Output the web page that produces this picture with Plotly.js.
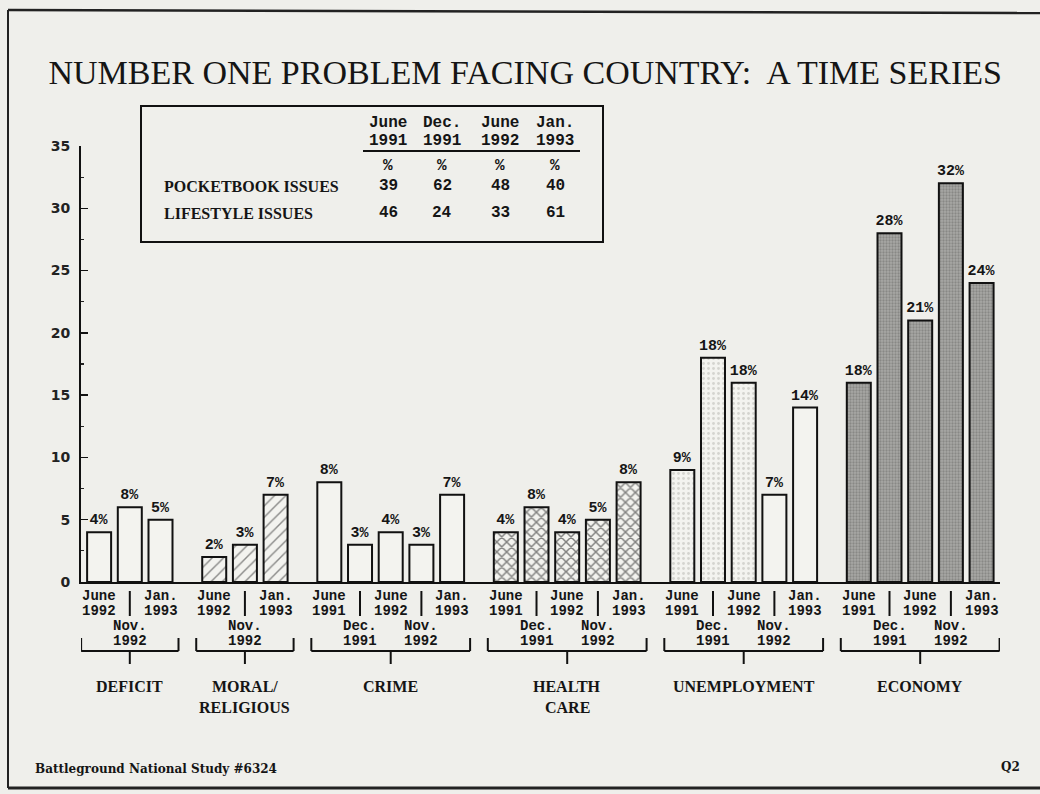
<!DOCTYPE html>
<html>
<head>
<meta charset="utf-8">
<script src="https://cdn.plot.ly/plotly-3.0.1.min.js"></script>
<style>
html,body{margin:0;padding:0;background:#efefeb;}
#chart{width:1040px;height:794px;}
</style>
</head>
<body>
<div id="chart"></div>
<script>
// ---------------- DATA ----------------
const categoryNames = [['DEFICIT'], ['MORAL/', 'RELIGIOUS'], ['CRIME'], ['HEALTH', 'CARE'], ['UNEMPLOYMENT'], ['ECONOMY']];

const deficitDates = ['June 1992', 'Nov. 1992', 'Jan. 1993'];
const deficitValues = [4, 6, 5];
const deficitLabels = ['4%', '8%', '5%'];

const moralDates = ['June 1992', 'Nov. 1992', 'Jan. 1993'];
const moralValues = [2, 3, 7];
const moralLabels = ['2%', '3%', '7%'];

const crimeDates = ['June 1991', 'Dec. 1991', 'June 1992', 'Nov. 1992', 'Jan. 1993'];
const crimeValues = [8, 3, 4, 3, 7];
const crimeLabels = ['8%', '3%', '4%', '3%', '7%'];

const healthDates = ['June 1991', 'Dec. 1991', 'June 1992', 'Nov. 1992', 'Jan. 1993'];
const healthValues = [4, 6, 4, 5, 8];
const healthLabels = ['4%', '8%', '4%', '5%', '8%'];

const unemploymentDates = ['June 1991', 'Dec. 1991', 'June 1992', 'Nov. 1992', 'Jan. 1993'];
const unemploymentValues = [9, 18, 16, 7, 14];
const unemploymentLabels = ['9%', '18%', '18%', '7%', '14%'];

const economyDates = ['June 1991', 'Dec. 1991', 'June 1992', 'Nov. 1992', 'Jan. 1993'];
const economyValues = [16, 28, 21, 32, 24];
const economyLabels = ['18%', '28%', '21%', '32%', '24%'];

const tableColumns = ['June 1991', 'Dec. 1991', 'June 1992', 'Jan. 1993'];
const tableRowNames = ['POCKETBOOK ISSUES', 'LIFESTYLE ISSUES'];
const pocketbookIssues = [39, 62, 48, 40];
const lifestyleIssues = [46, 24, 33, 61];

const yTicks = [0, 5, 10, 15, 20, 25, 30, 35];
const titleText = 'NUMBER ONE PROBLEM FACING COUNTRY:  A TIME SERIES';
const footerText = 'Battleground National Study #6324';
const pageText = 'Q2';

// ---------------- LAYOUT HELPERS ----------------
const BG = '#efefeb';
const BARFILL = '#f3f3ef';
const W = 1040, H = 794;
const ML = 81, MR = 40, MT = 146, MB = 212;
const PW = W - ML - MR, PH = H - MT - MB;
const XMIN = -0.59, XMAX = 29.35;
const pxX = px => (px - ML) / PW;          // page px -> paper x
const pxY = py => (H - MB - py) / PH;      // page px -> paper y
const unitPx = PW / (XMAX - XMIN);
const BARW = 24 / unitPx;
const EXT = BARW / 2 + 6 / unitPx;

const groups = [
  {dates: deficitDates, values: deficitValues, labels: deficitLabels, style: 'plain'},
  {dates: moralDates, values: moralValues, labels: moralLabels, style: 'hatch'},
  {dates: crimeDates, values: crimeValues, labels: crimeLabels, style: 'plain'},
  {dates: healthDates, values: healthValues, labels: healthLabels, style: 'cross'},
  {dates: unemploymentDates, values: unemploymentValues, labels: unemploymentLabels, style: 'dots'},
  {dates: economyDates, values: economyValues, labels: economyLabels, style: 'gray'}
];

const traces = [];
const annotations = [];
const shapes = [];
const monoBold = {family: 'Liberation Mono', size: 14, color: '#151515', weight: 'bold'};
const serifBold = {family: 'Liberation Serif', size: 16, color: '#151515', weight: 'bold'};

let pos = 0;
groups.forEach((g, gi) => {
  const xs = g.values.map((v, i) => pos + i);
  pos += g.values.length - 1 + 1.75;
  let marker = {color: BARFILL, line: {color: '#111', width: 2}};
  if (g.style === 'hatch') {
    marker.pattern = {shape: '/', fgcolor: '#222', bgcolor: BARFILL, size: 8, solidity: 0.18, fillmode: 'overlay'};
  } else if (g.style === 'cross') {
    marker.pattern = {shape: 'x', fgcolor: '#111', bgcolor: BARFILL, size: 7, solidity: 0.38, fillmode: 'overlay'};
  } else if (g.style === 'dots') {
    marker.pattern = {shape: g.values.map((v, i) => i < 3 ? '.' : ''), fgcolor: '#b5b5b0', bgcolor: BARFILL, size: 5, solidity: 0.25, fillmode: 'overlay'};
  } else if (g.style === 'gray') {
    marker.color = '#a2a29f';
    marker.pattern = {shape: '.', fgcolor: '#676765', bgcolor: '#a8a8a5', size: 3, solidity: 0.45, fillmode: 'overlay'};
  }
  traces.push({
    type: 'bar', x: xs, y: g.values, width: BARW,
    text: g.labels, textposition: 'outside', constraintext: 'none', cliponaxis: false,
    textfont: {family: 'Liberation Mono', size: 15, color: '#151515', weight: 'bold'},
    marker: marker, hoverinfo: 'skip', showlegend: false
  });
  // date labels
  xs.forEach((x, i) => {
    const parts = g.dates[i].split(' ');
    const upper = (i % 2 === 0);
    const y1 = upper ? 596 : 626, y2 = upper ? 611 : 641;
    annotations.push({x: x, xref: 'x', y: pxY(y1), yref: 'paper', text: parts[0], showarrow: false, font: monoBold, xanchor: 'center', yanchor: 'middle'});
    annotations.push({x: x, xref: 'x', y: pxY(y2), yref: 'paper', text: parts[1], showarrow: false, font: monoBold, xanchor: 'center', yanchor: 'middle'});
    if (!upper) {
      shapes.push({type: 'line', xref: 'x', yref: 'paper', x0: x, x1: x, y0: pxY(591), y1: pxY(616), line: {color: '#111', width: 2}});
    }
  });
  // bracket
  const left = xs[0] - EXT, right = xs[xs.length - 1] + EXT;
  const mid = (xs[0] + xs[xs.length - 1]) / 2;
  const ln = {color: '#111', width: 2};
  shapes.push({type: 'line', xref: 'x', yref: 'paper', x0: left, x1: right, y0: pxY(651), y1: pxY(651), line: ln});
  shapes.push({type: 'line', xref: 'x', yref: 'paper', x0: left, x1: left, y0: pxY(651), y1: pxY(638), line: ln});
  shapes.push({type: 'line', xref: 'x', yref: 'paper', x0: right, x1: right, y0: pxY(651), y1: pxY(638), line: ln});
  shapes.push({type: 'line', xref: 'x', yref: 'paper', x0: mid, x1: mid, y0: pxY(651), y1: pxY(664), line: ln});
  // category name
  categoryNames[gi].forEach((line, li) => {
    annotations.push({x: mid, xref: 'x', y: pxY(686 + li * 21), yref: 'paper', text: line, showarrow: false, font: serifBold, xanchor: 'center', yanchor: 'middle'});
  });
});

// ---------------- TABLE ----------------
const tFont = {family: 'Liberation Mono', size: 16, color: '#151515', weight: 'bold'};
const tLabelFont = {family: 'Liberation Serif', size: 16, color: '#151515', weight: 'bold'};
const colX = [388, 442, 500, 555];
shapes.push({type: 'rect', xref: 'paper', yref: 'paper', x0: pxX(141), x1: pxX(603), y0: pxY(106), y1: pxY(242), line: {color: '#111', width: 2}, fillcolor: 'rgba(0,0,0,0)'});
shapes.push({type: 'line', xref: 'paper', yref: 'paper', x0: pxX(363), x1: pxX(580), y0: pxY(151), y1: pxY(151), line: {color: '#111', width: 2}});
tableColumns.forEach((c, i) => {
  const parts = c.split(' ');
  annotations.push({x: pxX(colX[i]), xref: 'paper', y: pxY(123), yref: 'paper', text: parts[0], showarrow: false, font: tFont, xanchor: 'center', yanchor: 'middle'});
  annotations.push({x: pxX(colX[i]), xref: 'paper', y: pxY(141), yref: 'paper', text: parts[1], showarrow: false, font: tFont, xanchor: 'center', yanchor: 'middle'});
  annotations.push({x: pxX(colX[i]), xref: 'paper', y: pxY(166), yref: 'paper', text: '%', showarrow: false, font: tFont, xanchor: 'center', yanchor: 'middle'});
  annotations.push({x: pxX(colX[i]), xref: 'paper', y: pxY(186), yref: 'paper', text: String(pocketbookIssues[i]), showarrow: false, font: tFont, xanchor: 'center', yanchor: 'middle'});
  annotations.push({x: pxX(colX[i]), xref: 'paper', y: pxY(213), yref: 'paper', text: String(lifestyleIssues[i]), showarrow: false, font: tFont, xanchor: 'center', yanchor: 'middle'});
});
annotations.push({x: pxX(162), xref: 'paper', y: pxY(186), yref: 'paper', text: tableRowNames[0], showarrow: false, font: tLabelFont, xanchor: 'left', yanchor: 'middle'});
annotations.push({x: pxX(162), xref: 'paper', y: pxY(213), yref: 'paper', text: tableRowNames[1], showarrow: false, font: tLabelFont, xanchor: 'left', yanchor: 'middle'});

// ---------------- FOOTER & FRAME ----------------
annotations.push({x: pxX(33), xref: 'paper', y: pxY(769), yref: 'paper', text: footerText, showarrow: false, font: {family: 'DejaVu Serif', size: 12, color: '#151515', weight: 'bold'}, xanchor: 'left', yanchor: 'middle'});
annotations.push({x: pxX(1022), xref: 'paper', y: pxY(767), yref: 'paper', text: pageText, showarrow: false, font: {family: 'DejaVu Serif', size: 12, color: '#151515', weight: 'bold'}, xanchor: 'right', yanchor: 'middle'});
shapes.push({type: 'line', xref: 'paper', yref: 'paper', x0: pxX(8), x1: pxX(1040), y0: pxY(10), y1: pxY(13), line: {color: '#222', width: 2.5}});
shapes.push({type: 'line', xref: 'paper', yref: 'paper', x0: pxX(8), x1: pxX(8), y0: pxY(10), y1: pxY(788), line: {color: '#222', width: 2}});
shapes.push({type: 'line', xref: 'paper', yref: 'paper', x0: pxX(8), x1: pxX(1040), y0: pxY(788), y1: pxY(788), line: {color: '#222', width: 3}});

const layout = {
  width: W, height: H,
  paper_bgcolor: BG, plot_bgcolor: BG,
  margin: {l: ML, r: MR, t: MT, b: MB, pad: 0},
  title: {text: titleText, font: {family: 'Liberation Serif', size: 34, color: '#151515'},
          xref: 'container', x: 0.505, xanchor: 'center', yref: 'container', y: 1 - 72 / H, yanchor: 'middle'},
  xaxis: {range: [XMIN, XMAX], showline: true, linecolor: '#111', linewidth: 2, ticks: '', showticklabels: false,
          showgrid: false, zeroline: false, fixedrange: true},
  yaxis: {range: [0, 35], tickvals: yTicks, showline: true, linecolor: '#111', linewidth: 2, ticks: 'inside', ticklen: 7,
          tickwidth: 1.5, tickcolor: '#111', showgrid: false, zeroline: false, ticklabelstandoff: 6,
          tickfont: {family: 'DejaVu Sans', size: 14, color: '#222', weight: 'bold'},
          minor: {dtick: 2.5, ticks: 'inside', ticklen: 3, tickwidth: 1.2, tickcolor: '#222'}},
  barmode: 'overlay',
  shapes: shapes,
  annotations: annotations
};

Plotly.newPlot('chart', traces, layout, {displayModeBar: false, staticPlot: true});
</script>
</body>
</html>
